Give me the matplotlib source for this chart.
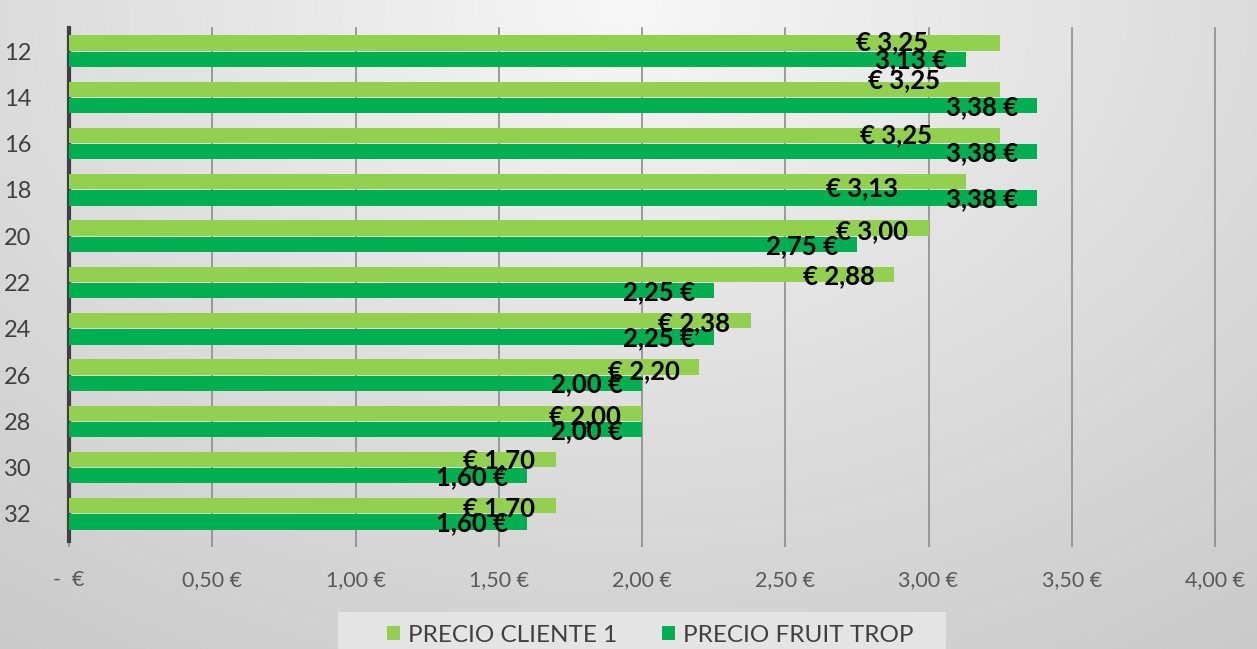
import numpy as np
import matplotlib
matplotlib.use("Agg")
import matplotlib.pyplot as plt
from matplotlib.patches import Rectangle

categories = ["12", "14", "16", "18", "20", "22", "24", "26", "28", "30", "32"]
precio_cliente = [3.25, 3.25, 3.25, 3.13, 3.00, 2.88, 2.38, 2.20, 2.00, 1.70, 1.70]
precio_fruit = [3.13, 3.38, 3.38, 3.38, 2.75, 2.25, 2.25, 2.00, 2.00, 1.60, 1.60]
x_ticks = [0, 0.5, 1.0, 1.5, 2.0, 2.5, 3.0, 3.5, 4.0]
x_tick_labels = ["-  €", "0,50 €", "1,00 €", "1,50 €", "2,00 €", "2,50 €", "3,00 €", "3,50 €", "4,00 €"]
series_names = ["PRECIO CLIENTE 1", "PRECIO FRUIT TROP"]

# label placement tweaks (pixels)
cliente_dx = [-72, -60, -68, -68, -21, -19, -21, -19, -21, -21, -21]
cliente_dy = [1, 9, 0, -6, -3, -2, -2, -4, -3, -1, -2]

W, H = 1257, 649
fig = plt.figure(figsize=(W / 100, H / 100), dpi=100)

# background: radial light spot at top centre
bg = fig.add_axes([0, 0, 1, 1], zorder=-10)
yy, xx = np.mgrid[0:1:300j, 0:1:300j]  # yy=0 bottom
d = np.sqrt(((xx - 0.5) / 0.7) ** 2 + ((yy - 1.0) / 1.0) ** 2)
v = (248 - 46 * np.clip(d / 1.23, 0, 1) ** 0.9) / 255.0
img = np.dstack([v, v, v])
bg.imshow(img, origin="lower", extent=[0, 1, 0, 1], aspect="auto")
bg.axis("off")
# legend background panel
bg.add_patch(Rectangle((338 / W, 0), (946 - 338) / W, (649 - 612) / H,
                       transform=bg.transAxes, facecolor="#e4e4e4", edgecolor="none", zorder=2))

ax = fig.add_axes([69 / W, 1 - 537 / H, (1215 - 69) / W, (537 - 28) / H])
ax.patch.set_alpha(0)

y = np.arange(len(categories))
h = 0.33
off = 0.175
c_light = "#92D050"
c_dark = "#00B050"
ax.barh(y - off, precio_cliente, height=h, color=c_light, label=series_names[0], zorder=3)
ax.barh(y + off, precio_fruit, height=h, color=c_dark, label=series_names[1], zorder=3)

ax.set_xlim(0, 4.0)
ax.set_ylim(len(categories) - 0.5, -0.5)
ax.set_xticks(x_ticks)
ax.set_xticklabels(x_tick_labels)
ax.set_yticks(y)
ax.set_yticklabels(categories)

for lab in ax.get_xticklabels():
    lab.set_fontfamily("Lato")
    lab.set_fontsize(15.5)
    lab.set_color("#595959")
for lab in ax.get_yticklabels():
    lab.set_fontfamily("Lato")
    lab.set_fontsize(17)
    lab.set_color("#404040")

ax.tick_params(axis="x", length=7, width=1.2, color="#8c8c8c", pad=17)
ax.tick_params(axis="y", length=0, pad=27)
ax.grid(axis="x", color="#8c8c8c", linewidth=1.2, zorder=0)
for gl in ax.get_xgridlines():
    gl.set_clip_on(False)
ax.set_axisbelow(True)
for s in ["top", "right", "bottom"]:
    ax.spines[s].set_visible(False)
ax.spines["left"].set_color("#404040")
ax.spines["left"].set_linewidth(3)
ax.spines["left"].set_bounds(len(categories) - 0.42, -0.5)

lab_font = dict(fontfamily="Lato", fontsize=18.5, fontweight="bold", color="#000000", zorder=5)
for i, v_ in enumerate(precio_cliente):
    txt = "€ " + f"{v_:.2f}".replace(".", ",")
    ax.annotate(txt, xy=(v_, i - off), xytext=(cliente_dx[i] * 0.72, cliente_dy[i] * 0.72),
                textcoords="offset points", ha="right", va="center", **lab_font)
for i, v_ in enumerate(precio_fruit):
    txt = f"{v_:.2f}".replace(".", ",") + " €"
    ax.annotate(txt, xy=(v_, i + off), xytext=(-19 * 0.72, -1),
                textcoords="offset points", ha="right", va="center", **lab_font)

leg = ax.legend(loc="center", ncol=2, frameon=False,
                handlelength=0.55, handleheight=0.55, handletextpad=0.3,
                columnspacing=1.85, borderpad=0, borderaxespad=0,
                prop=dict(family="Lato", size=17.5))
for t_ in leg.get_texts():
    t_.set_color("#404040")
leg.set_bbox_to_anchor((650 / W, 1 - 635 / H), transform=fig.transFigure)

fig.savefig("out.png", dpi=100)
